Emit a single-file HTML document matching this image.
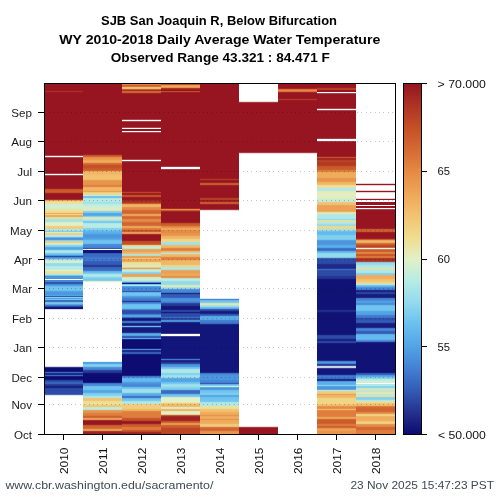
<!DOCTYPE html>
<html><head><meta charset="utf-8"><style>
html,body{margin:0;padding:0;background:#fff;}
svg{display:block;will-change:transform;}
text{font-family:"Liberation Sans",sans-serif;}
</style></head><body>
<svg width="500" height="500" viewBox="0 0 500 500">
<defs><linearGradient id="cb" x1="0" y1="0" x2="0" y2="1"><stop offset="0.0000" stop-color="#961520"/><stop offset="0.0625" stop-color="#AE3424"/><stop offset="0.1250" stop-color="#C45026"/><stop offset="0.2000" stop-color="#D87036"/><stop offset="0.2500" stop-color="#E48A44"/><stop offset="0.3125" stop-color="#EEA658"/><stop offset="0.3750" stop-color="#F2C270"/><stop offset="0.4375" stop-color="#F0DC8E"/><stop offset="0.5000" stop-color="#E2F0C6"/><stop offset="0.5625" stop-color="#B6ECE4"/><stop offset="0.6250" stop-color="#92DAEE"/><stop offset="0.6875" stop-color="#68C0F0"/><stop offset="0.7500" stop-color="#52A4E4"/><stop offset="0.8125" stop-color="#4480D4"/><stop offset="0.8750" stop-color="#325CB6"/><stop offset="0.9375" stop-color="#24328E"/><stop offset="1.0000" stop-color="#0C0C72"/></linearGradient></defs>
<rect x="0" y="0" width="500" height="500" fill="#fff"/>
<g font-weight="bold" font-size="13.6" fill="#000" text-anchor="start">
<text x="101" y="24.8" textLength="236" lengthAdjust="spacingAndGlyphs">SJB San Joaquin R, Below Bifurcation</text>
<text x="59.3" y="43.5" textLength="321" lengthAdjust="spacingAndGlyphs">WY 2010-2018 Daily Average Water Temperature</text>
<text x="110.8" y="62.4" textLength="219" lengthAdjust="spacingAndGlyphs">Observed Range 43.321 : 84.471 F</text>
</g>
<defs><linearGradient id="g0" gradientUnits="userSpaceOnUse" x1="0" y1="84" x2="0" y2="434"><stop offset="0.00214" stop-color="#961520"/><stop offset="0.01786" stop-color="#961520"/><stop offset="0.02143" stop-color="#A92E23"/><stop offset="0.02500" stop-color="#961520"/><stop offset="0.20357" stop-color="#961520"/><stop offset="0.20714" stop-color="#FFFFFF"/><stop offset="0.21071" stop-color="#961520"/><stop offset="0.25500" stop-color="#961520"/><stop offset="0.25857" stop-color="#FFFFFF"/><stop offset="0.26214" stop-color="#961520"/><stop offset="0.29786" stop-color="#961520"/><stop offset="0.30214" stop-color="#CB5B2B"/><stop offset="0.30929" stop-color="#CB5B2B"/><stop offset="0.31357" stop-color="#961520"/><stop offset="0.32929" stop-color="#961520"/><stop offset="0.33286" stop-color="#ECA054"/><stop offset="0.33643" stop-color="#EDE099"/><stop offset="0.34071" stop-color="#EDE099"/><stop offset="0.34500" stop-color="#D0EED2"/><stop offset="0.35500" stop-color="#D0EED2"/><stop offset="0.35929" stop-color="#EDE099"/><stop offset="0.36643" stop-color="#EDE099"/><stop offset="0.37000" stop-color="#EFAC5D"/><stop offset="0.37286" stop-color="#F0D788"/><stop offset="0.37643" stop-color="#ECA054"/><stop offset="0.37786" stop-color="#ECA054"/><stop offset="0.38214" stop-color="#EDE099"/><stop offset="0.38357" stop-color="#EDE099"/><stop offset="0.38786" stop-color="#A0E1EA"/><stop offset="0.39214" stop-color="#A0E1EA"/><stop offset="0.39643" stop-color="#E2F0C6"/><stop offset="0.40357" stop-color="#E2F0C6"/><stop offset="0.40786" stop-color="#F1CC7C"/><stop offset="0.41214" stop-color="#F1CC7C"/><stop offset="0.41643" stop-color="#AFE8E6"/><stop offset="0.41786" stop-color="#AFE8E6"/><stop offset="0.42143" stop-color="#81D0EF"/><stop offset="0.42429" stop-color="#D0EED2"/><stop offset="0.42786" stop-color="#F1CC7C"/><stop offset="0.42929" stop-color="#F1CC7C"/><stop offset="0.43357" stop-color="#BFEDDE"/><stop offset="0.43500" stop-color="#BFEDDE"/><stop offset="0.43857" stop-color="#64BAEE"/><stop offset="0.44214" stop-color="#4787D7"/><stop offset="0.44357" stop-color="#4787D7"/><stop offset="0.44714" stop-color="#81D0EF"/><stop offset="0.45071" stop-color="#F1CC7C"/><stop offset="0.45214" stop-color="#F1CC7C"/><stop offset="0.45643" stop-color="#D0EED2"/><stop offset="0.45786" stop-color="#D0EED2"/><stop offset="0.46214" stop-color="#81D0EF"/><stop offset="0.46357" stop-color="#81D0EF"/><stop offset="0.46786" stop-color="#52A4E4"/><stop offset="0.47214" stop-color="#52A4E4"/><stop offset="0.47643" stop-color="#AFE8E6"/><stop offset="0.48071" stop-color="#AFE8E6"/><stop offset="0.48500" stop-color="#70C5F0"/><stop offset="0.48643" stop-color="#70C5F0"/><stop offset="0.49000" stop-color="#4C96DE"/><stop offset="0.49286" stop-color="#2C4BA6"/><stop offset="0.49643" stop-color="#4C96DE"/><stop offset="0.49786" stop-color="#4C96DE"/><stop offset="0.50214" stop-color="#AFE8E6"/><stop offset="0.50357" stop-color="#AFE8E6"/><stop offset="0.50786" stop-color="#E2F0C6"/><stop offset="0.50929" stop-color="#E2F0C6"/><stop offset="0.51357" stop-color="#92DAEE"/><stop offset="0.51786" stop-color="#92DAEE"/><stop offset="0.52214" stop-color="#B8ECE3"/><stop offset="0.52929" stop-color="#B8ECE3"/><stop offset="0.53286" stop-color="#E2F0C6"/><stop offset="0.53643" stop-color="#EDE099"/><stop offset="0.54071" stop-color="#EDE099"/><stop offset="0.54429" stop-color="#AFE8E6"/><stop offset="0.54714" stop-color="#70C5F0"/><stop offset="0.55071" stop-color="#4C96DE"/><stop offset="0.55500" stop-color="#4C96DE"/><stop offset="0.55857" stop-color="#FFFFFF"/><stop offset="0.56214" stop-color="#4787D7"/><stop offset="0.56357" stop-color="#4787D7"/><stop offset="0.56786" stop-color="#2C4BA6"/><stop offset="0.56929" stop-color="#2C4BA6"/><stop offset="0.57357" stop-color="#4C96DE"/><stop offset="0.57500" stop-color="#4C96DE"/><stop offset="0.57929" stop-color="#70C5F0"/><stop offset="0.58929" stop-color="#70C5F0"/><stop offset="0.59286" stop-color="#52A4E4"/><stop offset="0.59643" stop-color="#4C96DE"/><stop offset="0.60071" stop-color="#4C96DE"/><stop offset="0.60429" stop-color="#52A4E4"/><stop offset="0.60714" stop-color="#325CB6"/><stop offset="0.61000" stop-color="#81D0EF"/><stop offset="0.61286" stop-color="#52A4E4"/><stop offset="0.61571" stop-color="#70C5F0"/><stop offset="0.61929" stop-color="#325CB6"/><stop offset="0.62071" stop-color="#325CB6"/><stop offset="0.62500" stop-color="#81D0EF"/><stop offset="0.62643" stop-color="#81D0EF"/><stop offset="0.63000" stop-color="#52A4E4"/><stop offset="0.63286" stop-color="#4079CE"/><stop offset="0.63571" stop-color="#2C4BA6"/><stop offset="0.63929" stop-color="#121579"/><stop offset="0.64071" stop-color="#121579"/><stop offset="0.64500" stop-color="#FFFFFF"/><stop offset="0.80643" stop-color="#FFFFFF"/><stop offset="0.81071" stop-color="#0C0C72"/><stop offset="0.82071" stop-color="#0C0C72"/><stop offset="0.82429" stop-color="#396AC2"/><stop offset="0.82786" stop-color="#161B7D"/><stop offset="0.82929" stop-color="#161B7D"/><stop offset="0.83286" stop-color="#396AC2"/><stop offset="0.83643" stop-color="#0C0C72"/><stop offset="0.84357" stop-color="#0C0C72"/><stop offset="0.84786" stop-color="#2C4BA6"/><stop offset="0.84929" stop-color="#2C4BA6"/><stop offset="0.85357" stop-color="#396AC2"/><stop offset="0.85500" stop-color="#396AC2"/><stop offset="0.85929" stop-color="#273A96"/><stop offset="0.86071" stop-color="#273A96"/><stop offset="0.86500" stop-color="#161B7D"/><stop offset="0.86643" stop-color="#161B7D"/><stop offset="0.87071" stop-color="#2C4BA6"/><stop offset="0.88643" stop-color="#2C4BA6"/><stop offset="0.89071" stop-color="#FFFFFF"/><stop offset="0.99786" stop-color="#FFFFFF"/></linearGradient><linearGradient id="g1" gradientUnits="userSpaceOnUse" x1="0" y1="84" x2="0" y2="434"><stop offset="0.00214" stop-color="#961520"/><stop offset="0.20071" stop-color="#961520"/><stop offset="0.20500" stop-color="#CB5B2B"/><stop offset="0.20643" stop-color="#CB5B2B"/><stop offset="0.21071" stop-color="#E8954C"/><stop offset="0.21500" stop-color="#E8954C"/><stop offset="0.21929" stop-color="#EFAC5D"/><stop offset="0.22357" stop-color="#EFAC5D"/><stop offset="0.22786" stop-color="#D16531"/><stop offset="0.22929" stop-color="#D16531"/><stop offset="0.23357" stop-color="#C45026"/><stop offset="0.23786" stop-color="#C45026"/><stop offset="0.24214" stop-color="#CB5B2B"/><stop offset="0.24643" stop-color="#CB5B2B"/><stop offset="0.25071" stop-color="#F0B766"/><stop offset="0.25786" stop-color="#F0B766"/><stop offset="0.26214" stop-color="#F2C270"/><stop offset="0.27214" stop-color="#F2C270"/><stop offset="0.27643" stop-color="#E8954C"/><stop offset="0.28643" stop-color="#E8954C"/><stop offset="0.29071" stop-color="#DE7D3D"/><stop offset="0.29214" stop-color="#DE7D3D"/><stop offset="0.29643" stop-color="#F0B766"/><stop offset="0.30357" stop-color="#F0B766"/><stop offset="0.30714" stop-color="#ECA054"/><stop offset="0.31071" stop-color="#F0D788"/><stop offset="0.31500" stop-color="#F0D788"/><stop offset="0.31857" stop-color="#BFEDDE"/><stop offset="0.32214" stop-color="#64BAEE"/><stop offset="0.32357" stop-color="#64BAEE"/><stop offset="0.32786" stop-color="#BFEDDE"/><stop offset="0.32929" stop-color="#BFEDDE"/><stop offset="0.33357" stop-color="#AFE8E6"/><stop offset="0.33500" stop-color="#AFE8E6"/><stop offset="0.33929" stop-color="#A0E1EA"/><stop offset="0.34071" stop-color="#A0E1EA"/><stop offset="0.34500" stop-color="#BFEDDE"/><stop offset="0.34643" stop-color="#BFEDDE"/><stop offset="0.35071" stop-color="#D0EED2"/><stop offset="0.35500" stop-color="#D0EED2"/><stop offset="0.35929" stop-color="#E8E8B0"/><stop offset="0.36071" stop-color="#E8E8B0"/><stop offset="0.36500" stop-color="#81D0EF"/><stop offset="0.36643" stop-color="#81D0EF"/><stop offset="0.37071" stop-color="#52A4E4"/><stop offset="0.37500" stop-color="#52A4E4"/><stop offset="0.37857" stop-color="#81D0EF"/><stop offset="0.38214" stop-color="#E8E8B0"/><stop offset="0.38357" stop-color="#E8E8B0"/><stop offset="0.38786" stop-color="#AFE8E6"/><stop offset="0.38929" stop-color="#AFE8E6"/><stop offset="0.39357" stop-color="#70C5F0"/><stop offset="0.39500" stop-color="#70C5F0"/><stop offset="0.39929" stop-color="#B8ECE3"/><stop offset="0.40929" stop-color="#B8ECE3"/><stop offset="0.41357" stop-color="#81D0EF"/><stop offset="0.41500" stop-color="#81D0EF"/><stop offset="0.41857" stop-color="#70C5F0"/><stop offset="0.42214" stop-color="#5BAFE9"/><stop offset="0.42643" stop-color="#5BAFE9"/><stop offset="0.43071" stop-color="#4C96DE"/><stop offset="0.43786" stop-color="#4C96DE"/><stop offset="0.44214" stop-color="#52A4E4"/><stop offset="0.44357" stop-color="#52A4E4"/><stop offset="0.44786" stop-color="#70C5F0"/><stop offset="0.45500" stop-color="#70C5F0"/><stop offset="0.45929" stop-color="#4787D7"/><stop offset="0.46643" stop-color="#4787D7"/><stop offset="0.47000" stop-color="#325CB6"/><stop offset="0.47286" stop-color="#FFFFFF"/><stop offset="0.47643" stop-color="#121579"/><stop offset="0.48071" stop-color="#121579"/><stop offset="0.48500" stop-color="#396AC2"/><stop offset="0.49214" stop-color="#396AC2"/><stop offset="0.49643" stop-color="#4079CE"/><stop offset="0.50357" stop-color="#4079CE"/><stop offset="0.50786" stop-color="#325CB6"/><stop offset="0.51500" stop-color="#325CB6"/><stop offset="0.51929" stop-color="#253490"/><stop offset="0.52071" stop-color="#253490"/><stop offset="0.52500" stop-color="#396AC2"/><stop offset="0.53214" stop-color="#396AC2"/><stop offset="0.53643" stop-color="#64BAEE"/><stop offset="0.53786" stop-color="#64BAEE"/><stop offset="0.54143" stop-color="#81D0EF"/><stop offset="0.54500" stop-color="#AFE8E6"/><stop offset="0.54929" stop-color="#AFE8E6"/><stop offset="0.55357" stop-color="#81D0EF"/><stop offset="0.55500" stop-color="#81D0EF"/><stop offset="0.55929" stop-color="#70C5F0"/><stop offset="0.56071" stop-color="#70C5F0"/><stop offset="0.56429" stop-color="#E2F0C6"/><stop offset="0.56786" stop-color="#FFFFFF"/><stop offset="0.79214" stop-color="#FFFFFF"/><stop offset="0.79643" stop-color="#52A4E4"/><stop offset="0.79786" stop-color="#52A4E4"/><stop offset="0.80214" stop-color="#81D0EF"/><stop offset="0.80643" stop-color="#81D0EF"/><stop offset="0.81071" stop-color="#4787D7"/><stop offset="0.81500" stop-color="#4787D7"/><stop offset="0.81929" stop-color="#273A96"/><stop offset="0.82357" stop-color="#273A96"/><stop offset="0.82786" stop-color="#0C0C72"/><stop offset="0.85214" stop-color="#0C0C72"/><stop offset="0.85643" stop-color="#4787D7"/><stop offset="0.86071" stop-color="#4787D7"/><stop offset="0.86500" stop-color="#70C5F0"/><stop offset="0.87214" stop-color="#70C5F0"/><stop offset="0.87643" stop-color="#52A4E4"/><stop offset="0.88071" stop-color="#52A4E4"/><stop offset="0.88500" stop-color="#81D0EF"/><stop offset="0.88929" stop-color="#81D0EF"/><stop offset="0.89357" stop-color="#AFE8E6"/><stop offset="0.89500" stop-color="#AFE8E6"/><stop offset="0.89929" stop-color="#F2C270"/><stop offset="0.90357" stop-color="#F2C270"/><stop offset="0.90786" stop-color="#EDE099"/><stop offset="0.91500" stop-color="#EDE099"/><stop offset="0.91929" stop-color="#F2C270"/><stop offset="0.92071" stop-color="#F2C270"/><stop offset="0.92500" stop-color="#BFEDDE"/><stop offset="0.92929" stop-color="#BFEDDE"/><stop offset="0.93357" stop-color="#E8954C"/><stop offset="0.93786" stop-color="#E8954C"/><stop offset="0.94214" stop-color="#DE7D3D"/><stop offset="0.94643" stop-color="#DE7D3D"/><stop offset="0.95071" stop-color="#CB5B2B"/><stop offset="0.95214" stop-color="#CB5B2B"/><stop offset="0.95643" stop-color="#EFAC5D"/><stop offset="0.95786" stop-color="#EFAC5D"/><stop offset="0.96214" stop-color="#961520"/><stop offset="0.97214" stop-color="#961520"/><stop offset="0.97643" stop-color="#D16531"/><stop offset="0.98357" stop-color="#D16531"/><stop offset="0.98786" stop-color="#EFAC5D"/><stop offset="0.98929" stop-color="#EFAC5D"/><stop offset="0.99357" stop-color="#A02122"/><stop offset="0.99786" stop-color="#A02122"/></linearGradient><linearGradient id="g2" gradientUnits="userSpaceOnUse" x1="0" y1="84" x2="0" y2="434"><stop offset="0.00143" stop-color="#DE7D3D"/><stop offset="0.00500" stop-color="#CB5B2B"/><stop offset="0.00643" stop-color="#CB5B2B"/><stop offset="0.01071" stop-color="#F0D788"/><stop offset="0.01214" stop-color="#F0D788"/><stop offset="0.01571" stop-color="#CB5B2B"/><stop offset="0.01857" stop-color="#A92E23"/><stop offset="0.02214" stop-color="#D87036"/><stop offset="0.02357" stop-color="#D87036"/><stop offset="0.02786" stop-color="#961520"/><stop offset="0.10071" stop-color="#961520"/><stop offset="0.10429" stop-color="#FFFFFF"/><stop offset="0.10786" stop-color="#961520"/><stop offset="0.12357" stop-color="#961520"/><stop offset="0.12714" stop-color="#FFFFFF"/><stop offset="0.13071" stop-color="#961520"/><stop offset="0.13214" stop-color="#961520"/><stop offset="0.13571" stop-color="#FFFFFF"/><stop offset="0.13929" stop-color="#961520"/><stop offset="0.21500" stop-color="#961520"/><stop offset="0.21857" stop-color="#FFFFFF"/><stop offset="0.22214" stop-color="#961520"/><stop offset="0.30643" stop-color="#961520"/><stop offset="0.31000" stop-color="#BB4525"/><stop offset="0.31357" stop-color="#961520"/><stop offset="0.31500" stop-color="#961520"/><stop offset="0.31929" stop-color="#CB5B2B"/><stop offset="0.32071" stop-color="#CB5B2B"/><stop offset="0.32500" stop-color="#961520"/><stop offset="0.32929" stop-color="#961520"/><stop offset="0.33357" stop-color="#A92E23"/><stop offset="0.33786" stop-color="#A92E23"/><stop offset="0.34143" stop-color="#CB5B2B"/><stop offset="0.34500" stop-color="#F0B766"/><stop offset="0.34929" stop-color="#F0B766"/><stop offset="0.35357" stop-color="#E48A44"/><stop offset="0.35786" stop-color="#E48A44"/><stop offset="0.36214" stop-color="#D16531"/><stop offset="0.36929" stop-color="#D16531"/><stop offset="0.37357" stop-color="#EFAC5D"/><stop offset="0.37500" stop-color="#EFAC5D"/><stop offset="0.37929" stop-color="#D16531"/><stop offset="0.38357" stop-color="#D16531"/><stop offset="0.38786" stop-color="#E48A44"/><stop offset="0.39214" stop-color="#E48A44"/><stop offset="0.39643" stop-color="#D16531"/><stop offset="0.40357" stop-color="#D16531"/><stop offset="0.40786" stop-color="#EFAC5D"/><stop offset="0.40929" stop-color="#EFAC5D"/><stop offset="0.41357" stop-color="#DE7D3D"/><stop offset="0.41500" stop-color="#DE7D3D"/><stop offset="0.41929" stop-color="#C45026"/><stop offset="0.42071" stop-color="#C45026"/><stop offset="0.42500" stop-color="#EFAC5D"/><stop offset="0.42643" stop-color="#EFAC5D"/><stop offset="0.43071" stop-color="#961520"/><stop offset="0.44643" stop-color="#961520"/><stop offset="0.45071" stop-color="#C45026"/><stop offset="0.45786" stop-color="#C45026"/><stop offset="0.46143" stop-color="#F1CC7C"/><stop offset="0.46500" stop-color="#BFEDDE"/><stop offset="0.46929" stop-color="#BFEDDE"/><stop offset="0.47357" stop-color="#ECA054"/><stop offset="0.47786" stop-color="#ECA054"/><stop offset="0.48214" stop-color="#F0B766"/><stop offset="0.48357" stop-color="#F0B766"/><stop offset="0.48786" stop-color="#AFE8E6"/><stop offset="0.48929" stop-color="#AFE8E6"/><stop offset="0.49357" stop-color="#E8954C"/><stop offset="0.49500" stop-color="#E8954C"/><stop offset="0.49857" stop-color="#F2C270"/><stop offset="0.50214" stop-color="#ECA054"/><stop offset="0.50643" stop-color="#ECA054"/><stop offset="0.51071" stop-color="#EDE099"/><stop offset="0.51500" stop-color="#EDE099"/><stop offset="0.51929" stop-color="#D0EED2"/><stop offset="0.52071" stop-color="#D0EED2"/><stop offset="0.52429" stop-color="#F1CC7C"/><stop offset="0.52714" stop-color="#ECA054"/><stop offset="0.53071" stop-color="#BFEDDE"/><stop offset="0.53500" stop-color="#BFEDDE"/><stop offset="0.53929" stop-color="#81D0EF"/><stop offset="0.54071" stop-color="#81D0EF"/><stop offset="0.54500" stop-color="#ECA054"/><stop offset="0.54929" stop-color="#ECA054"/><stop offset="0.55357" stop-color="#D0EED2"/><stop offset="0.55786" stop-color="#D0EED2"/><stop offset="0.56214" stop-color="#AFE8E6"/><stop offset="0.56357" stop-color="#AFE8E6"/><stop offset="0.56714" stop-color="#4787D7"/><stop offset="0.57000" stop-color="#161B7D"/><stop offset="0.57286" stop-color="#70C5F0"/><stop offset="0.57571" stop-color="#AFE8E6"/><stop offset="0.57857" stop-color="#52A4E4"/><stop offset="0.58214" stop-color="#4787D7"/><stop offset="0.58929" stop-color="#4787D7"/><stop offset="0.59286" stop-color="#325CB6"/><stop offset="0.59643" stop-color="#70C5F0"/><stop offset="0.60357" stop-color="#70C5F0"/><stop offset="0.60786" stop-color="#4C96DE"/><stop offset="0.60929" stop-color="#4C96DE"/><stop offset="0.61357" stop-color="#4079CE"/><stop offset="0.61786" stop-color="#4079CE"/><stop offset="0.62143" stop-color="#273A96"/><stop offset="0.62500" stop-color="#4787D7"/><stop offset="0.62643" stop-color="#4787D7"/><stop offset="0.63000" stop-color="#64BAEE"/><stop offset="0.63357" stop-color="#70C5F0"/><stop offset="0.64071" stop-color="#70C5F0"/><stop offset="0.64429" stop-color="#4787D7"/><stop offset="0.64786" stop-color="#2C4BA6"/><stop offset="0.65500" stop-color="#2C4BA6"/><stop offset="0.65857" stop-color="#4079CE"/><stop offset="0.66214" stop-color="#5BAFE9"/><stop offset="0.66357" stop-color="#5BAFE9"/><stop offset="0.66714" stop-color="#396AC2"/><stop offset="0.67071" stop-color="#121579"/><stop offset="0.67500" stop-color="#121579"/><stop offset="0.67929" stop-color="#4787D7"/><stop offset="0.68071" stop-color="#4787D7"/><stop offset="0.68500" stop-color="#161B7D"/><stop offset="0.68929" stop-color="#161B7D"/><stop offset="0.69286" stop-color="#64BAEE"/><stop offset="0.69643" stop-color="#161B7D"/><stop offset="0.70929" stop-color="#161B7D"/><stop offset="0.71357" stop-color="#5BAFE9"/><stop offset="0.71786" stop-color="#5BAFE9"/><stop offset="0.72214" stop-color="#2C4BA6"/><stop offset="0.72357" stop-color="#2C4BA6"/><stop offset="0.72714" stop-color="#52A4E4"/><stop offset="0.73071" stop-color="#0C0C72"/><stop offset="0.75500" stop-color="#0C0C72"/><stop offset="0.75857" stop-color="#4787D7"/><stop offset="0.76214" stop-color="#161B7D"/><stop offset="0.76357" stop-color="#161B7D"/><stop offset="0.76786" stop-color="#396AC2"/><stop offset="0.76929" stop-color="#396AC2"/><stop offset="0.77357" stop-color="#0C0C72"/><stop offset="0.83214" stop-color="#0C0C72"/><stop offset="0.83643" stop-color="#4787D7"/><stop offset="0.83786" stop-color="#4787D7"/><stop offset="0.84214" stop-color="#64BAEE"/><stop offset="0.84929" stop-color="#64BAEE"/><stop offset="0.85357" stop-color="#4C96DE"/><stop offset="0.85500" stop-color="#4C96DE"/><stop offset="0.85929" stop-color="#4787D7"/><stop offset="0.86357" stop-color="#4787D7"/><stop offset="0.86786" stop-color="#70C5F0"/><stop offset="0.86929" stop-color="#70C5F0"/><stop offset="0.87357" stop-color="#A0E1EA"/><stop offset="0.88071" stop-color="#A0E1EA"/><stop offset="0.88500" stop-color="#5BAFE9"/><stop offset="0.88929" stop-color="#5BAFE9"/><stop offset="0.89357" stop-color="#396AC2"/><stop offset="0.89500" stop-color="#396AC2"/><stop offset="0.89929" stop-color="#70C5F0"/><stop offset="0.90357" stop-color="#70C5F0"/><stop offset="0.90786" stop-color="#AFE8E6"/><stop offset="0.91214" stop-color="#AFE8E6"/><stop offset="0.91643" stop-color="#F1CC7C"/><stop offset="0.92643" stop-color="#F1CC7C"/><stop offset="0.93071" stop-color="#F0B766"/><stop offset="0.93214" stop-color="#F0B766"/><stop offset="0.93643" stop-color="#DE7D3D"/><stop offset="0.95214" stop-color="#DE7D3D"/><stop offset="0.95643" stop-color="#C45026"/><stop offset="0.96071" stop-color="#C45026"/><stop offset="0.96500" stop-color="#961520"/><stop offset="0.96929" stop-color="#961520"/><stop offset="0.97357" stop-color="#CB5B2B"/><stop offset="0.97786" stop-color="#CB5B2B"/><stop offset="0.98214" stop-color="#DE7D3D"/><stop offset="0.98643" stop-color="#DE7D3D"/><stop offset="0.99071" stop-color="#C45026"/><stop offset="0.99214" stop-color="#C45026"/><stop offset="0.99643" stop-color="#A02122"/><stop offset="0.99786" stop-color="#A02122"/></linearGradient><linearGradient id="g3" gradientUnits="userSpaceOnUse" x1="0" y1="84" x2="0" y2="434"><stop offset="0.00143" stop-color="#C45026"/><stop offset="0.00500" stop-color="#EFAC5D"/><stop offset="0.00929" stop-color="#EFAC5D"/><stop offset="0.01357" stop-color="#A02122"/><stop offset="0.01500" stop-color="#A02122"/><stop offset="0.01857" stop-color="#961520"/><stop offset="0.02143" stop-color="#C45026"/><stop offset="0.02500" stop-color="#961520"/><stop offset="0.23500" stop-color="#961520"/><stop offset="0.23929" stop-color="#FFFFFF"/><stop offset="0.24071" stop-color="#FFFFFF"/><stop offset="0.24500" stop-color="#961520"/><stop offset="0.35500" stop-color="#961520"/><stop offset="0.35857" stop-color="#E48A44"/><stop offset="0.36143" stop-color="#CB5B2B"/><stop offset="0.36500" stop-color="#961520"/><stop offset="0.39500" stop-color="#961520"/><stop offset="0.39929" stop-color="#CB5B2B"/><stop offset="0.40357" stop-color="#CB5B2B"/><stop offset="0.40786" stop-color="#E48A44"/><stop offset="0.40929" stop-color="#E48A44"/><stop offset="0.41357" stop-color="#EFAC5D"/><stop offset="0.41500" stop-color="#EFAC5D"/><stop offset="0.41929" stop-color="#E48A44"/><stop offset="0.42357" stop-color="#E48A44"/><stop offset="0.42786" stop-color="#E8954C"/><stop offset="0.43214" stop-color="#E8954C"/><stop offset="0.43643" stop-color="#F0B766"/><stop offset="0.44071" stop-color="#F0B766"/><stop offset="0.44500" stop-color="#F0D788"/><stop offset="0.44929" stop-color="#F0D788"/><stop offset="0.45357" stop-color="#A0E1EA"/><stop offset="0.45786" stop-color="#A0E1EA"/><stop offset="0.46214" stop-color="#F0B766"/><stop offset="0.46643" stop-color="#F0B766"/><stop offset="0.47071" stop-color="#DE7D3D"/><stop offset="0.47500" stop-color="#DE7D3D"/><stop offset="0.47929" stop-color="#F2C270"/><stop offset="0.48071" stop-color="#F2C270"/><stop offset="0.48429" stop-color="#AFE8E6"/><stop offset="0.48786" stop-color="#F0B766"/><stop offset="0.49214" stop-color="#F0B766"/><stop offset="0.49643" stop-color="#DE7D3D"/><stop offset="0.50071" stop-color="#DE7D3D"/><stop offset="0.50500" stop-color="#F0B766"/><stop offset="0.51500" stop-color="#F0B766"/><stop offset="0.51929" stop-color="#F0D788"/><stop offset="0.52071" stop-color="#F0D788"/><stop offset="0.52500" stop-color="#AFE8E6"/><stop offset="0.52929" stop-color="#AFE8E6"/><stop offset="0.53357" stop-color="#ECA054"/><stop offset="0.54071" stop-color="#ECA054"/><stop offset="0.54500" stop-color="#EFAC5D"/><stop offset="0.54643" stop-color="#EFAC5D"/><stop offset="0.55071" stop-color="#E48A44"/><stop offset="0.55214" stop-color="#E48A44"/><stop offset="0.55643" stop-color="#BFEDDE"/><stop offset="0.56071" stop-color="#BFEDDE"/><stop offset="0.56500" stop-color="#92DAEE"/><stop offset="0.57214" stop-color="#92DAEE"/><stop offset="0.57643" stop-color="#E8E8B0"/><stop offset="0.57786" stop-color="#E8E8B0"/><stop offset="0.58214" stop-color="#A0E1EA"/><stop offset="0.58357" stop-color="#A0E1EA"/><stop offset="0.58786" stop-color="#4787D7"/><stop offset="0.59500" stop-color="#4787D7"/><stop offset="0.59857" stop-color="#1F2A88"/><stop offset="0.60214" stop-color="#325CB6"/><stop offset="0.60929" stop-color="#325CB6"/><stop offset="0.61357" stop-color="#4C96DE"/><stop offset="0.61786" stop-color="#4C96DE"/><stop offset="0.62214" stop-color="#4787D7"/><stop offset="0.62357" stop-color="#4787D7"/><stop offset="0.62786" stop-color="#273A96"/><stop offset="0.63214" stop-color="#273A96"/><stop offset="0.63643" stop-color="#121579"/><stop offset="0.64357" stop-color="#121579"/><stop offset="0.64786" stop-color="#2C4BA6"/><stop offset="0.64929" stop-color="#2C4BA6"/><stop offset="0.65286" stop-color="#161B7D"/><stop offset="0.65643" stop-color="#2C4BA6"/><stop offset="0.66357" stop-color="#2C4BA6"/><stop offset="0.66714" stop-color="#396AC2"/><stop offset="0.67071" stop-color="#273A96"/><stop offset="0.67214" stop-color="#273A96"/><stop offset="0.67643" stop-color="#52A4E4"/><stop offset="0.67786" stop-color="#52A4E4"/><stop offset="0.68214" stop-color="#121579"/><stop offset="0.71214" stop-color="#121579"/><stop offset="0.71643" stop-color="#FFFFFF"/><stop offset="0.71786" stop-color="#FFFFFF"/><stop offset="0.72214" stop-color="#121579"/><stop offset="0.78357" stop-color="#121579"/><stop offset="0.78714" stop-color="#4079CE"/><stop offset="0.79071" stop-color="#161B7D"/><stop offset="0.79214" stop-color="#161B7D"/><stop offset="0.79643" stop-color="#273A96"/><stop offset="0.79786" stop-color="#273A96"/><stop offset="0.80214" stop-color="#4C96DE"/><stop offset="0.80643" stop-color="#4C96DE"/><stop offset="0.81071" stop-color="#70C5F0"/><stop offset="0.81214" stop-color="#70C5F0"/><stop offset="0.81643" stop-color="#AFE8E6"/><stop offset="0.82357" stop-color="#AFE8E6"/><stop offset="0.82786" stop-color="#81D0EF"/><stop offset="0.82929" stop-color="#81D0EF"/><stop offset="0.83357" stop-color="#A0E1EA"/><stop offset="0.83786" stop-color="#A0E1EA"/><stop offset="0.84214" stop-color="#52A4E4"/><stop offset="0.84929" stop-color="#52A4E4"/><stop offset="0.85357" stop-color="#70C5F0"/><stop offset="0.85500" stop-color="#70C5F0"/><stop offset="0.85929" stop-color="#A0E1EA"/><stop offset="0.86357" stop-color="#A0E1EA"/><stop offset="0.86786" stop-color="#81D0EF"/><stop offset="0.87214" stop-color="#81D0EF"/><stop offset="0.87643" stop-color="#396AC2"/><stop offset="0.88357" stop-color="#396AC2"/><stop offset="0.88786" stop-color="#70C5F0"/><stop offset="0.89214" stop-color="#70C5F0"/><stop offset="0.89643" stop-color="#E2F0C6"/><stop offset="0.90929" stop-color="#E2F0C6"/><stop offset="0.91286" stop-color="#F1CC7C"/><stop offset="0.91643" stop-color="#F0B766"/><stop offset="0.92071" stop-color="#F0B766"/><stop offset="0.92500" stop-color="#E2F0C6"/><stop offset="0.92643" stop-color="#E2F0C6"/><stop offset="0.93071" stop-color="#EFAC5D"/><stop offset="0.93214" stop-color="#EFAC5D"/><stop offset="0.93643" stop-color="#E2F0C6"/><stop offset="0.94357" stop-color="#E2F0C6"/><stop offset="0.94714" stop-color="#CB5B2B"/><stop offset="0.95071" stop-color="#A02122"/><stop offset="0.96071" stop-color="#A02122"/><stop offset="0.96500" stop-color="#CB5B2B"/><stop offset="0.96643" stop-color="#CB5B2B"/><stop offset="0.97071" stop-color="#ECA054"/><stop offset="0.97214" stop-color="#ECA054"/><stop offset="0.97643" stop-color="#CB5B2B"/><stop offset="0.98071" stop-color="#CB5B2B"/><stop offset="0.98500" stop-color="#BB4525"/><stop offset="0.99786" stop-color="#BB4525"/></linearGradient><linearGradient id="g4" gradientUnits="userSpaceOnUse" x1="0" y1="84" x2="0" y2="434"><stop offset="0.00214" stop-color="#961520"/><stop offset="0.26929" stop-color="#961520"/><stop offset="0.27286" stop-color="#B23A24"/><stop offset="0.27643" stop-color="#961520"/><stop offset="0.28071" stop-color="#961520"/><stop offset="0.28500" stop-color="#D16531"/><stop offset="0.28643" stop-color="#D16531"/><stop offset="0.29071" stop-color="#961520"/><stop offset="0.32357" stop-color="#961520"/><stop offset="0.32786" stop-color="#BB4525"/><stop offset="0.32929" stop-color="#BB4525"/><stop offset="0.33357" stop-color="#961520"/><stop offset="0.33500" stop-color="#961520"/><stop offset="0.33929" stop-color="#D16531"/><stop offset="0.34071" stop-color="#D16531"/><stop offset="0.34500" stop-color="#961520"/><stop offset="0.35786" stop-color="#961520"/><stop offset="0.36214" stop-color="#FFFFFF"/><stop offset="0.61214" stop-color="#FFFFFF"/><stop offset="0.61571" stop-color="#4787D7"/><stop offset="0.61929" stop-color="#70C5F0"/><stop offset="0.62357" stop-color="#70C5F0"/><stop offset="0.62786" stop-color="#E8E8B0"/><stop offset="0.62929" stop-color="#E8E8B0"/><stop offset="0.63357" stop-color="#A0E1EA"/><stop offset="0.63500" stop-color="#A0E1EA"/><stop offset="0.63929" stop-color="#64BAEE"/><stop offset="0.64071" stop-color="#64BAEE"/><stop offset="0.64500" stop-color="#2C4BA6"/><stop offset="0.64643" stop-color="#2C4BA6"/><stop offset="0.65071" stop-color="#161B7D"/><stop offset="0.65500" stop-color="#161B7D"/><stop offset="0.65929" stop-color="#325CB6"/><stop offset="0.66071" stop-color="#325CB6"/><stop offset="0.66500" stop-color="#5BAFE9"/><stop offset="0.67214" stop-color="#5BAFE9"/><stop offset="0.67643" stop-color="#4079CE"/><stop offset="0.68357" stop-color="#4079CE"/><stop offset="0.68786" stop-color="#121579"/><stop offset="0.82357" stop-color="#121579"/><stop offset="0.82786" stop-color="#4787D7"/><stop offset="0.82929" stop-color="#4787D7"/><stop offset="0.83357" stop-color="#4C96DE"/><stop offset="0.84357" stop-color="#4C96DE"/><stop offset="0.84786" stop-color="#4787D7"/><stop offset="0.85214" stop-color="#4787D7"/><stop offset="0.85571" stop-color="#325CB6"/><stop offset="0.85929" stop-color="#70C5F0"/><stop offset="0.86071" stop-color="#70C5F0"/><stop offset="0.86429" stop-color="#BFEDDE"/><stop offset="0.86786" stop-color="#4C96DE"/><stop offset="0.87214" stop-color="#4C96DE"/><stop offset="0.87643" stop-color="#70C5F0"/><stop offset="0.88071" stop-color="#70C5F0"/><stop offset="0.88500" stop-color="#81D0EF"/><stop offset="0.88643" stop-color="#81D0EF"/><stop offset="0.89071" stop-color="#52A4E4"/><stop offset="0.89214" stop-color="#52A4E4"/><stop offset="0.89643" stop-color="#70C5F0"/><stop offset="0.90643" stop-color="#70C5F0"/><stop offset="0.91071" stop-color="#AFE8E6"/><stop offset="0.91786" stop-color="#AFE8E6"/><stop offset="0.92214" stop-color="#EDE099"/><stop offset="0.92643" stop-color="#EDE099"/><stop offset="0.93071" stop-color="#F2C270"/><stop offset="0.93500" stop-color="#F2C270"/><stop offset="0.93929" stop-color="#EFAC5D"/><stop offset="0.94357" stop-color="#EFAC5D"/><stop offset="0.94714" stop-color="#E8954C"/><stop offset="0.95071" stop-color="#EFAC5D"/><stop offset="0.95500" stop-color="#EFAC5D"/><stop offset="0.95857" stop-color="#E8954C"/><stop offset="0.96214" stop-color="#EFAC5D"/><stop offset="0.96929" stop-color="#EFAC5D"/><stop offset="0.97357" stop-color="#F1CC7C"/><stop offset="0.97786" stop-color="#F1CC7C"/><stop offset="0.98214" stop-color="#D16531"/><stop offset="0.98929" stop-color="#D16531"/><stop offset="0.99357" stop-color="#E8954C"/><stop offset="0.99786" stop-color="#E8954C"/></linearGradient><linearGradient id="g5" gradientUnits="userSpaceOnUse" x1="0" y1="84" x2="0" y2="434"><stop offset="0.00214" stop-color="#FFFFFF"/><stop offset="0.04929" stop-color="#FFFFFF"/><stop offset="0.05357" stop-color="#961520"/><stop offset="0.19500" stop-color="#961520"/><stop offset="0.19929" stop-color="#FFFFFF"/><stop offset="0.97786" stop-color="#FFFFFF"/><stop offset="0.98214" stop-color="#961520"/><stop offset="0.99786" stop-color="#961520"/></linearGradient><linearGradient id="g6" gradientUnits="userSpaceOnUse" x1="0" y1="84" x2="0" y2="434"><stop offset="0.00214" stop-color="#961520"/><stop offset="0.01214" stop-color="#961520"/><stop offset="0.01571" stop-color="#D87036"/><stop offset="0.01857" stop-color="#E48A44"/><stop offset="0.02143" stop-color="#D87036"/><stop offset="0.02500" stop-color="#961520"/><stop offset="0.04071" stop-color="#961520"/><stop offset="0.04429" stop-color="#B23A24"/><stop offset="0.04786" stop-color="#961520"/><stop offset="0.19500" stop-color="#961520"/><stop offset="0.19929" stop-color="#FFFFFF"/><stop offset="0.99786" stop-color="#FFFFFF"/></linearGradient><linearGradient id="g7" gradientUnits="userSpaceOnUse" x1="0" y1="84" x2="0" y2="434"><stop offset="0.00214" stop-color="#961520"/><stop offset="0.00929" stop-color="#961520"/><stop offset="0.01357" stop-color="#BB4525"/><stop offset="0.01500" stop-color="#BB4525"/><stop offset="0.01929" stop-color="#961520"/><stop offset="0.02071" stop-color="#961520"/><stop offset="0.02429" stop-color="#FFFFFF"/><stop offset="0.02786" stop-color="#961520"/><stop offset="0.06929" stop-color="#961520"/><stop offset="0.07286" stop-color="#FFFFFF"/><stop offset="0.07643" stop-color="#961520"/><stop offset="0.15500" stop-color="#961520"/><stop offset="0.15929" stop-color="#FFFFFF"/><stop offset="0.16071" stop-color="#FFFFFF"/><stop offset="0.16500" stop-color="#961520"/><stop offset="0.20643" stop-color="#961520"/><stop offset="0.21000" stop-color="#C45026"/><stop offset="0.21357" stop-color="#A02122"/><stop offset="0.21500" stop-color="#A02122"/><stop offset="0.21929" stop-color="#BB4525"/><stop offset="0.22071" stop-color="#BB4525"/><stop offset="0.22500" stop-color="#B23A24"/><stop offset="0.23214" stop-color="#B23A24"/><stop offset="0.23643" stop-color="#CB5B2B"/><stop offset="0.24357" stop-color="#CB5B2B"/><stop offset="0.24786" stop-color="#DE7D3D"/><stop offset="0.24929" stop-color="#DE7D3D"/><stop offset="0.25357" stop-color="#EFAC5D"/><stop offset="0.26643" stop-color="#EFAC5D"/><stop offset="0.27071" stop-color="#E8954C"/><stop offset="0.27786" stop-color="#E8954C"/><stop offset="0.28214" stop-color="#F0B766"/><stop offset="0.28643" stop-color="#F0B766"/><stop offset="0.29071" stop-color="#EDE099"/><stop offset="0.29500" stop-color="#EDE099"/><stop offset="0.29929" stop-color="#AFE8E6"/><stop offset="0.30357" stop-color="#AFE8E6"/><stop offset="0.30786" stop-color="#E4EDBD"/><stop offset="0.32643" stop-color="#E4EDBD"/><stop offset="0.33071" stop-color="#BFEDDE"/><stop offset="0.33500" stop-color="#BFEDDE"/><stop offset="0.33929" stop-color="#F2C270"/><stop offset="0.34357" stop-color="#F2C270"/><stop offset="0.34786" stop-color="#ECA054"/><stop offset="0.36357" stop-color="#ECA054"/><stop offset="0.36786" stop-color="#E8E8B0"/><stop offset="0.36929" stop-color="#E8E8B0"/><stop offset="0.37357" stop-color="#AFE8E6"/><stop offset="0.38357" stop-color="#AFE8E6"/><stop offset="0.38714" stop-color="#92DAEE"/><stop offset="0.39071" stop-color="#EDE099"/><stop offset="0.39214" stop-color="#EDE099"/><stop offset="0.39643" stop-color="#AFE8E6"/><stop offset="0.39786" stop-color="#AFE8E6"/><stop offset="0.40214" stop-color="#92DAEE"/><stop offset="0.40357" stop-color="#92DAEE"/><stop offset="0.40786" stop-color="#F0D788"/><stop offset="0.41214" stop-color="#F0D788"/><stop offset="0.41643" stop-color="#A0E1EA"/><stop offset="0.41786" stop-color="#A0E1EA"/><stop offset="0.42214" stop-color="#64BAEE"/><stop offset="0.42929" stop-color="#64BAEE"/><stop offset="0.43357" stop-color="#81D0EF"/><stop offset="0.44357" stop-color="#81D0EF"/><stop offset="0.44786" stop-color="#4C96DE"/><stop offset="0.45786" stop-color="#4C96DE"/><stop offset="0.46214" stop-color="#5BAFE9"/><stop offset="0.46643" stop-color="#5BAFE9"/><stop offset="0.47071" stop-color="#396AC2"/><stop offset="0.47500" stop-color="#396AC2"/><stop offset="0.47929" stop-color="#64BAEE"/><stop offset="0.48071" stop-color="#64BAEE"/><stop offset="0.48500" stop-color="#92DAEE"/><stop offset="0.49500" stop-color="#92DAEE"/><stop offset="0.49929" stop-color="#2C4BA6"/><stop offset="0.51214" stop-color="#2C4BA6"/><stop offset="0.51643" stop-color="#1F2A88"/><stop offset="0.52643" stop-color="#1F2A88"/><stop offset="0.53000" stop-color="#396AC2"/><stop offset="0.53357" stop-color="#2C4BA6"/><stop offset="0.54643" stop-color="#2C4BA6"/><stop offset="0.55071" stop-color="#253490"/><stop offset="0.55500" stop-color="#253490"/><stop offset="0.55929" stop-color="#101276"/><stop offset="0.64357" stop-color="#101276"/><stop offset="0.64786" stop-color="#23308D"/><stop offset="0.64929" stop-color="#23308D"/><stop offset="0.65357" stop-color="#101276"/><stop offset="0.71500" stop-color="#101276"/><stop offset="0.71929" stop-color="#2C4BA6"/><stop offset="0.72643" stop-color="#2C4BA6"/><stop offset="0.73071" stop-color="#161B7D"/><stop offset="0.73214" stop-color="#161B7D"/><stop offset="0.73643" stop-color="#2C4BA6"/><stop offset="0.73786" stop-color="#2C4BA6"/><stop offset="0.74214" stop-color="#101276"/><stop offset="0.78929" stop-color="#101276"/><stop offset="0.79357" stop-color="#4C96DE"/><stop offset="0.79786" stop-color="#4C96DE"/><stop offset="0.80214" stop-color="#1F2A88"/><stop offset="0.80357" stop-color="#1F2A88"/><stop offset="0.80786" stop-color="#E6F8F6"/><stop offset="0.80929" stop-color="#E6F8F6"/><stop offset="0.81357" stop-color="#121579"/><stop offset="0.82929" stop-color="#121579"/><stop offset="0.83357" stop-color="#4079CE"/><stop offset="0.84071" stop-color="#4079CE"/><stop offset="0.84500" stop-color="#161B7D"/><stop offset="0.84643" stop-color="#161B7D"/><stop offset="0.85071" stop-color="#5BAFE9"/><stop offset="0.85786" stop-color="#5BAFE9"/><stop offset="0.86143" stop-color="#81D0EF"/><stop offset="0.86500" stop-color="#4C96DE"/><stop offset="0.87214" stop-color="#4C96DE"/><stop offset="0.87571" stop-color="#AFE8E6"/><stop offset="0.87929" stop-color="#F1CC7C"/><stop offset="0.88357" stop-color="#F1CC7C"/><stop offset="0.88714" stop-color="#ECA054"/><stop offset="0.89071" stop-color="#F0B766"/><stop offset="0.89500" stop-color="#F0B766"/><stop offset="0.89929" stop-color="#F0D788"/><stop offset="0.91214" stop-color="#F0D788"/><stop offset="0.91643" stop-color="#F2C270"/><stop offset="0.91786" stop-color="#F2C270"/><stop offset="0.92214" stop-color="#E48A44"/><stop offset="0.92643" stop-color="#E48A44"/><stop offset="0.93000" stop-color="#F0B766"/><stop offset="0.93357" stop-color="#DE7D3D"/><stop offset="0.94929" stop-color="#DE7D3D"/><stop offset="0.95357" stop-color="#EFAC5D"/><stop offset="0.95500" stop-color="#EFAC5D"/><stop offset="0.95929" stop-color="#CB5B2B"/><stop offset="0.96929" stop-color="#CB5B2B"/><stop offset="0.97357" stop-color="#DE7D3D"/><stop offset="0.97500" stop-color="#DE7D3D"/><stop offset="0.97929" stop-color="#CB5B2B"/><stop offset="0.98071" stop-color="#CB5B2B"/><stop offset="0.98500" stop-color="#ECA054"/><stop offset="0.98929" stop-color="#ECA054"/><stop offset="0.99357" stop-color="#E8954C"/><stop offset="0.99786" stop-color="#E8954C"/></linearGradient><linearGradient id="g8" gradientUnits="userSpaceOnUse" x1="0" y1="84" x2="0" y2="434"><stop offset="0.00214" stop-color="#FFFFFF"/><stop offset="0.28357" stop-color="#FFFFFF"/><stop offset="0.28714" stop-color="#961520"/><stop offset="0.29071" stop-color="#FFFFFF"/><stop offset="0.30357" stop-color="#FFFFFF"/><stop offset="0.30714" stop-color="#961520"/><stop offset="0.31071" stop-color="#FFFFFF"/><stop offset="0.32643" stop-color="#FFFFFF"/><stop offset="0.33000" stop-color="#961520"/><stop offset="0.33357" stop-color="#FFFFFF"/><stop offset="0.33500" stop-color="#FFFFFF"/><stop offset="0.33929" stop-color="#961520"/><stop offset="0.34357" stop-color="#961520"/><stop offset="0.34714" stop-color="#FFFFFF"/><stop offset="0.35071" stop-color="#961520"/><stop offset="0.35214" stop-color="#961520"/><stop offset="0.35571" stop-color="#FFFFFF"/><stop offset="0.35929" stop-color="#961520"/><stop offset="0.41214" stop-color="#961520"/><stop offset="0.41643" stop-color="#D16531"/><stop offset="0.42071" stop-color="#D16531"/><stop offset="0.42500" stop-color="#961520"/><stop offset="0.44071" stop-color="#961520"/><stop offset="0.44429" stop-color="#CB5B2B"/><stop offset="0.44786" stop-color="#F0B766"/><stop offset="0.45214" stop-color="#F0B766"/><stop offset="0.45643" stop-color="#D16531"/><stop offset="0.45786" stop-color="#D16531"/><stop offset="0.46214" stop-color="#BB4525"/><stop offset="0.46643" stop-color="#BB4525"/><stop offset="0.47000" stop-color="#FAF3E0"/><stop offset="0.47357" stop-color="#CB5B2B"/><stop offset="0.47786" stop-color="#CB5B2B"/><stop offset="0.48214" stop-color="#E48A44"/><stop offset="0.48357" stop-color="#E48A44"/><stop offset="0.48786" stop-color="#C45026"/><stop offset="0.48929" stop-color="#C45026"/><stop offset="0.49357" stop-color="#DE7D3D"/><stop offset="0.49500" stop-color="#DE7D3D"/><stop offset="0.49929" stop-color="#A92E23"/><stop offset="0.50643" stop-color="#A92E23"/><stop offset="0.51071" stop-color="#92DAEE"/><stop offset="0.51500" stop-color="#92DAEE"/><stop offset="0.51929" stop-color="#AFE8E6"/><stop offset="0.52357" stop-color="#AFE8E6"/><stop offset="0.52714" stop-color="#EDE099"/><stop offset="0.53071" stop-color="#AFE8E6"/><stop offset="0.53786" stop-color="#AFE8E6"/><stop offset="0.54214" stop-color="#81D0EF"/><stop offset="0.54357" stop-color="#81D0EF"/><stop offset="0.54786" stop-color="#EFAC5D"/><stop offset="0.55500" stop-color="#EFAC5D"/><stop offset="0.55929" stop-color="#F2C270"/><stop offset="0.56357" stop-color="#F2C270"/><stop offset="0.56786" stop-color="#F0D788"/><stop offset="0.56929" stop-color="#F0D788"/><stop offset="0.57286" stop-color="#AFE8E6"/><stop offset="0.57643" stop-color="#64BAEE"/><stop offset="0.57786" stop-color="#64BAEE"/><stop offset="0.58214" stop-color="#4787D7"/><stop offset="0.58643" stop-color="#4787D7"/><stop offset="0.59071" stop-color="#161B7D"/><stop offset="0.59214" stop-color="#161B7D"/><stop offset="0.59643" stop-color="#2C4BA6"/><stop offset="0.59786" stop-color="#2C4BA6"/><stop offset="0.60214" stop-color="#161B7D"/><stop offset="0.60929" stop-color="#161B7D"/><stop offset="0.61357" stop-color="#4787D7"/><stop offset="0.61786" stop-color="#4787D7"/><stop offset="0.62214" stop-color="#52A4E4"/><stop offset="0.62357" stop-color="#52A4E4"/><stop offset="0.62786" stop-color="#4787D7"/><stop offset="0.62929" stop-color="#4787D7"/><stop offset="0.63357" stop-color="#70C5F0"/><stop offset="0.64643" stop-color="#70C5F0"/><stop offset="0.65071" stop-color="#52A4E4"/><stop offset="0.65786" stop-color="#52A4E4"/><stop offset="0.66214" stop-color="#4079CE"/><stop offset="0.66643" stop-color="#4079CE"/><stop offset="0.67071" stop-color="#2C4BA6"/><stop offset="0.67214" stop-color="#2C4BA6"/><stop offset="0.67643" stop-color="#325CB6"/><stop offset="0.68071" stop-color="#325CB6"/><stop offset="0.68500" stop-color="#161B7D"/><stop offset="0.69500" stop-color="#161B7D"/><stop offset="0.69929" stop-color="#4787D7"/><stop offset="0.70357" stop-color="#4787D7"/><stop offset="0.70786" stop-color="#325CB6"/><stop offset="0.71214" stop-color="#325CB6"/><stop offset="0.71643" stop-color="#64BAEE"/><stop offset="0.72929" stop-color="#64BAEE"/><stop offset="0.73357" stop-color="#4787D7"/><stop offset="0.73500" stop-color="#4787D7"/><stop offset="0.73929" stop-color="#101276"/><stop offset="0.82357" stop-color="#101276"/><stop offset="0.82786" stop-color="#325CB6"/><stop offset="0.82929" stop-color="#325CB6"/><stop offset="0.83357" stop-color="#52A4E4"/><stop offset="0.83500" stop-color="#52A4E4"/><stop offset="0.83929" stop-color="#81D0EF"/><stop offset="0.84071" stop-color="#81D0EF"/><stop offset="0.84500" stop-color="#BFEDDE"/><stop offset="0.84643" stop-color="#BFEDDE"/><stop offset="0.85071" stop-color="#D0EED2"/><stop offset="0.85214" stop-color="#D0EED2"/><stop offset="0.85571" stop-color="#FFFFFF"/><stop offset="0.85929" stop-color="#AFE8E6"/><stop offset="0.86071" stop-color="#AFE8E6"/><stop offset="0.86500" stop-color="#81D0EF"/><stop offset="0.86643" stop-color="#81D0EF"/><stop offset="0.87000" stop-color="#AFE8E6"/><stop offset="0.87357" stop-color="#EDE099"/><stop offset="0.87500" stop-color="#EDE099"/><stop offset="0.87857" stop-color="#AFE8E6"/><stop offset="0.88214" stop-color="#E8E8B0"/><stop offset="0.88357" stop-color="#E8E8B0"/><stop offset="0.88714" stop-color="#AFE8E6"/><stop offset="0.89071" stop-color="#EDE099"/><stop offset="0.89214" stop-color="#EDE099"/><stop offset="0.89643" stop-color="#81D0EF"/><stop offset="0.90071" stop-color="#81D0EF"/><stop offset="0.90429" stop-color="#AFE8E6"/><stop offset="0.90786" stop-color="#EDE099"/><stop offset="0.90929" stop-color="#EDE099"/><stop offset="0.91357" stop-color="#F2C270"/><stop offset="0.91786" stop-color="#F2C270"/><stop offset="0.92143" stop-color="#DE7D3D"/><stop offset="0.92500" stop-color="#D16531"/><stop offset="0.93500" stop-color="#D16531"/><stop offset="0.93929" stop-color="#E48A44"/><stop offset="0.94071" stop-color="#E48A44"/><stop offset="0.94500" stop-color="#F0D788"/><stop offset="0.94643" stop-color="#F0D788"/><stop offset="0.95071" stop-color="#EFAC5D"/><stop offset="0.96071" stop-color="#EFAC5D"/><stop offset="0.96429" stop-color="#F2C270"/><stop offset="0.96786" stop-color="#F0D788"/><stop offset="0.96929" stop-color="#F0D788"/><stop offset="0.97357" stop-color="#E48A44"/><stop offset="0.97786" stop-color="#E48A44"/><stop offset="0.98214" stop-color="#D16531"/><stop offset="0.98643" stop-color="#D16531"/><stop offset="0.99071" stop-color="#DE7D3D"/><stop offset="0.99786" stop-color="#DE7D3D"/></linearGradient></defs><g shape-rendering="crispEdges"><rect x="45" y="84" width="38" height="350" fill="url(#g0)"/>
<rect x="45" y="156" width="38" height="1" fill="#FFFFFF"/>
<rect x="45" y="174" width="38" height="1" fill="#FFFFFF"/>
<rect x="45" y="276" width="38" height="3" fill="#4C96DE"/>
<rect x="45" y="279" width="38" height="1" fill="#FFFFFF"/>
<rect x="45" y="280" width="38" height="2" fill="#4787D7"/>
<rect x="45" y="307" width="38" height="2" fill="#121579"/>
<rect x="83" y="84" width="39" height="350" fill="url(#g1)"/>
<rect x="83" y="248" width="39" height="1" fill="#325CB6"/>
<rect x="83" y="249" width="39" height="1" fill="#FFFFFF"/>
<rect x="83" y="250" width="39" height="3" fill="#121579"/>
<rect x="83" y="281" width="39" height="1" fill="#E2F0C6"/>
<rect x="83" y="362" width="39" height="2" fill="#52A4E4"/>
<rect x="122" y="84" width="39" height="350" fill="url(#g2)"/>
<rect x="122" y="120" width="39" height="1" fill="#FFFFFF"/>
<rect x="122" y="128" width="39" height="1" fill="#FFFFFF"/>
<rect x="122" y="129" width="39" height="2" fill="#961520"/>
<rect x="122" y="131" width="39" height="1" fill="#FFFFFF"/>
<rect x="122" y="160" width="39" height="1" fill="#FFFFFF"/>
<rect x="161" y="84" width="39" height="350" fill="url(#g3)"/>
<rect x="161" y="167" width="39" height="2" fill="#FFFFFF"/>
<rect x="161" y="334" width="39" height="2" fill="#FFFFFF"/>
<rect x="200" y="84" width="39" height="350" fill="url(#g4)"/>
<rect x="200" y="299" width="39" height="1" fill="#4787D7"/>
<rect x="239" y="84" width="39" height="350" fill="url(#g5)"/>
<rect x="278" y="84" width="39" height="350" fill="url(#g6)"/>
<rect x="317" y="84" width="39" height="350" fill="url(#g7)"/>
<rect x="317" y="90" width="39" height="2" fill="#961520"/>
<rect x="317" y="92" width="39" height="1" fill="#FFFFFF"/>
<rect x="317" y="109" width="39" height="1" fill="#FFFFFF"/>
<rect x="317" y="139" width="39" height="2" fill="#FFFFFF"/>
<rect x="356" y="84" width="39" height="350" fill="url(#g8)"/>
<rect x="356" y="184" width="39" height="1" fill="#961520"/>
<rect x="356" y="191" width="39" height="1" fill="#961520"/>
<rect x="356" y="199" width="39" height="1" fill="#961520"/>
<rect x="356" y="200" width="39" height="2" fill="#FFFFFF"/>
<rect x="356" y="202" width="39" height="3" fill="#961520"/>
<rect x="356" y="205" width="39" height="1" fill="#FFFFFF"/>
<rect x="356" y="206" width="39" height="2" fill="#961520"/>
<rect x="356" y="208" width="39" height="1" fill="#FFFFFF"/>
<rect x="356" y="381" width="39" height="2" fill="#D0EED2"/>
<rect x="356" y="383" width="39" height="1" fill="#FFFFFF"/>
<rect x="356" y="384" width="39" height="2" fill="#AFE8E6"/></g>
<g shape-rendering="crispEdges"><line x1="48.9" y1="404.5" x2="394" y2="404.5" stroke="#000" stroke-opacity="0.22" stroke-width="1" stroke-dasharray="1,3.4"/><line x1="48.9" y1="377.5" x2="394" y2="377.5" stroke="#000" stroke-opacity="0.22" stroke-width="1" stroke-dasharray="1,3.4"/><line x1="48.9" y1="347.5" x2="394" y2="347.5" stroke="#000" stroke-opacity="0.22" stroke-width="1" stroke-dasharray="1,3.4"/><line x1="48.9" y1="318.5" x2="394" y2="318.5" stroke="#000" stroke-opacity="0.22" stroke-width="1" stroke-dasharray="1,3.4"/><line x1="48.9" y1="288.5" x2="394" y2="288.5" stroke="#000" stroke-opacity="0.22" stroke-width="1" stroke-dasharray="1,3.4"/><line x1="48.9" y1="259.5" x2="394" y2="259.5" stroke="#000" stroke-opacity="0.22" stroke-width="1" stroke-dasharray="1,3.4"/><line x1="48.9" y1="230.5" x2="394" y2="230.5" stroke="#000" stroke-opacity="0.22" stroke-width="1" stroke-dasharray="1,3.4"/><line x1="48.9" y1="200.5" x2="394" y2="200.5" stroke="#000" stroke-opacity="0.22" stroke-width="1" stroke-dasharray="1,3.4"/><line x1="48.9" y1="171.5" x2="394" y2="171.5" stroke="#000" stroke-opacity="0.22" stroke-width="1" stroke-dasharray="1,3.4"/><line x1="48.9" y1="141.5" x2="394" y2="141.5" stroke="#000" stroke-opacity="0.22" stroke-width="1" stroke-dasharray="1,3.4"/><line x1="48.9" y1="112.5" x2="394" y2="112.5" stroke="#000" stroke-opacity="0.22" stroke-width="1" stroke-dasharray="1,3.4"/></g>
<rect x="44.5" y="83.5" width="351" height="351" fill="none" stroke="#000" stroke-width="1"/>
<g shape-rendering="crispEdges"><rect x="38" y="434" width="6" height="1" fill="#000"/><rect x="38" y="404" width="6" height="1" fill="#000"/><rect x="38" y="377" width="6" height="1" fill="#000"/><rect x="38" y="347" width="6" height="1" fill="#000"/><rect x="38" y="318" width="6" height="1" fill="#000"/><rect x="38" y="288" width="6" height="1" fill="#000"/><rect x="38" y="259" width="6" height="1" fill="#000"/><rect x="38" y="230" width="6" height="1" fill="#000"/><rect x="38" y="200" width="6" height="1" fill="#000"/><rect x="38" y="171" width="6" height="1" fill="#000"/><rect x="38" y="141" width="6" height="1" fill="#000"/><rect x="38" y="112" width="6" height="1" fill="#000"/><rect x="63" y="435" width="1" height="5" fill="#000"/><rect x="102" y="435" width="1" height="5" fill="#000"/><rect x="141" y="435" width="1" height="5" fill="#000"/><rect x="180" y="435" width="1" height="5" fill="#000"/><rect x="219" y="435" width="1" height="5" fill="#000"/><rect x="258" y="435" width="1" height="5" fill="#000"/><rect x="297" y="435" width="1" height="5" fill="#000"/><rect x="336" y="435" width="1" height="5" fill="#000"/><rect x="375" y="435" width="1" height="5" fill="#000"/></g>
<g font-size="11.6" fill="#1a1a1a"><text x="32" y="438.6" text-anchor="end">Oct</text><text x="32" y="408.6" text-anchor="end">Nov</text><text x="32" y="381.6" text-anchor="end">Dec</text><text x="32" y="351.6" text-anchor="end">Jan</text><text x="32" y="322.6" text-anchor="end">Feb</text><text x="32" y="292.6" text-anchor="end">Mar</text><text x="32" y="263.6" text-anchor="end">Apr</text><text x="32" y="234.6" text-anchor="end">May</text><text x="32" y="204.6" text-anchor="end">Jun</text><text x="32" y="175.6" text-anchor="end">Jul</text><text x="32" y="145.6" text-anchor="end">Aug</text><text x="32" y="116.6" text-anchor="end">Sep</text></g>
<g font-size="11.2" fill="#111"><text transform="translate(67.6,474) rotate(-90)" textLength="26.5" lengthAdjust="spacingAndGlyphs">2010</text><text transform="translate(106.6,474) rotate(-90)" textLength="26.5" lengthAdjust="spacingAndGlyphs">2011</text><text transform="translate(145.6,474) rotate(-90)" textLength="26.5" lengthAdjust="spacingAndGlyphs">2012</text><text transform="translate(184.6,474) rotate(-90)" textLength="26.5" lengthAdjust="spacingAndGlyphs">2013</text><text transform="translate(223.6,474) rotate(-90)" textLength="26.5" lengthAdjust="spacingAndGlyphs">2014</text><text transform="translate(262.6,474) rotate(-90)" textLength="26.5" lengthAdjust="spacingAndGlyphs">2015</text><text transform="translate(301.6,474) rotate(-90)" textLength="26.5" lengthAdjust="spacingAndGlyphs">2016</text><text transform="translate(340.6,474) rotate(-90)" textLength="26.5" lengthAdjust="spacingAndGlyphs">2017</text><text transform="translate(379.6,474) rotate(-90)" textLength="26.5" lengthAdjust="spacingAndGlyphs">2018</text></g>
<rect x="404" y="84" width="17" height="350" fill="url(#cb)"/>
<rect x="403.5" y="83.5" width="18" height="351" fill="none" stroke="#000" stroke-width="1"/>
<g shape-rendering="crispEdges"><rect x="421" y="83" width="6" height="1" fill="#000"/><rect x="421" y="171" width="6" height="1" fill="#000"/><rect x="421" y="259" width="6" height="1" fill="#000"/><rect x="421" y="346" width="6" height="1" fill="#000"/><rect x="421" y="434" width="6" height="1" fill="#000"/></g>
<g font-size="11.2" fill="#111">
<text x="437.6" y="87.8" textLength="48.3" lengthAdjust="spacingAndGlyphs">&gt; 70.000</text>
<text x="437.5" y="174.8">65</text>
<text x="437.5" y="262.8">60</text>
<text x="437.5" y="350.6">55</text>
<text x="437.9" y="438.9" textLength="48" lengthAdjust="spacingAndGlyphs">&lt; 50.000</text>
</g>
<g font-size="10.5" fill="#3E4A52">
<text x="5.4" y="488.6" textLength="208" lengthAdjust="spacingAndGlyphs">www.cbr.washington.edu/sacramento/</text>
<text x="350.4" y="488.6" textLength="143.6" lengthAdjust="spacingAndGlyphs">23 Nov 2025 15:47:23 PST</text>
</g>
</svg>
</body></html>
